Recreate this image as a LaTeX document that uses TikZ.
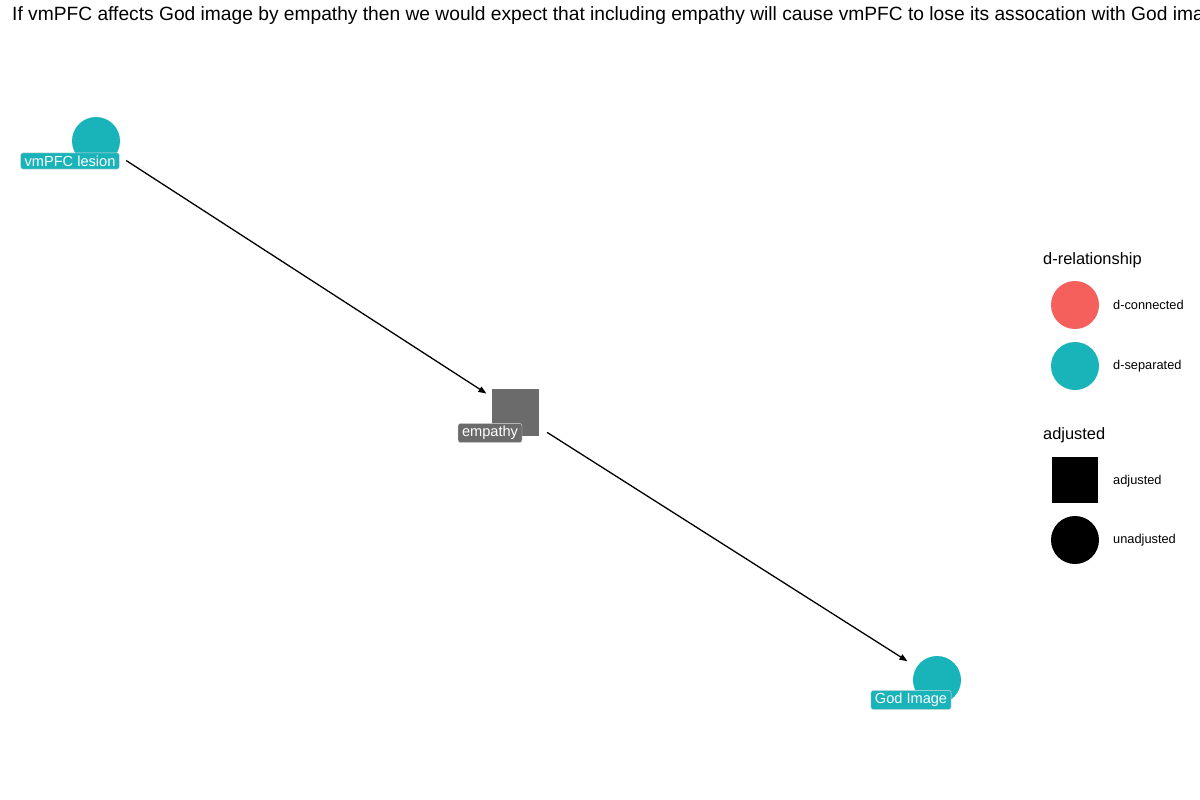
\documentclass[tikz,border=0pt]{standalone}
\usepackage{fontspec}
\setmainfont{Liberation Sans}
\usetikzlibrary{positioning,arrows.meta}
\definecolor{dsep}{HTML}{19B4B9}
\definecolor{dcon}{HTML}{F5605D}
\definecolor{adj}{HTML}{6B6B6B}
\tikzstyle{var} = [circle, fill=dsep, minimum size=48pt, inner sep=0pt]
\tikzstyle{adjvar} = [rectangle, fill=adj, minimum size=47pt, inner sep=0pt]
\tikzstyle{tag} = [rounded corners=2.5pt, draw=white!85!black, line width=0.4pt, text=white, font=\fontsize{14.6}{14.6}\selectfont, inner xsep=4pt, inner ysep=2.8pt]
\tikzstyle{to} = [-{Triangle[length=8pt,width=6pt]}, line width=1.3pt]
\tikzstyle{keytitle} = [font=\fontsize{16.4}{16.4}\selectfont, anchor=west, inner sep=0pt]
\tikzstyle{key} = [font=\fontsize{12.8}{12.8}\selectfont, anchor=west, inner sep=0pt]

\begin{document}
\begin{tikzpicture}[x=1pt, y=-1pt]
	\useasboundingbox (0,0) rectangle (1200,800);
	\clip (0,0) rectangle (1200,800);
	\node (title) [anchor=base west, inner sep=0pt, font=\fontsize{19.2}{19.2}\selectfont] at (12,21) {If vmPFC affects God image by empathy then we would expect that including empathy will cause vmPFC to lose its assocation with God image};
	% graph
	\node (vmpfc) [var] at (96,141) {};
	\node (vmpfcl) [tag, fill=dsep] at (70,161) {vmPFC lesion};
	\node (emp) [adjvar] at (515,412) {};
	\node (empl) [tag, fill=adj] at (490,433) {empathy};
	\node (god) [var] at (937,680) {};
	\node (godl) [tag, fill=dsep] at (911,700) {God Image};
	\draw [to, shorten <=36pt, shorten >=34pt] (vmpfc.center) -- (emp.center);
	\draw [to, shorten <=38pt, shorten >=35pt] (emp.center) -- (god.center);
	% legend
	\node (reltitle) [keytitle] at (1043,260) {d-relationship};
	\node (con) [circle, fill=dcon, minimum size=48pt, inner sep=0pt] at (1075,305) {};
	\node (sep) [circle, fill=dsep, minimum size=48pt, inner sep=0pt] at (1075,366) {};
	\node (conl) [key] at (1113,305) {d-connected};
	\node (sepl) [key] at (1113,366) {d-separated};
	\node (adjtitle) [keytitle] at (1043,435) {adjusted};
	\node (adjk) [rectangle, fill=black, minimum size=46pt, inner sep=0pt] at (1075,480) {};
	\node (unadjk) [circle, fill=black, minimum size=48pt, inner sep=0pt] at (1075,540) {};
	\node (adjl) [key] at (1113,481) {adjusted};
	\node (unadjl) [key] at (1113,540) {unadjusted};
\end{tikzpicture}
\end{document}
